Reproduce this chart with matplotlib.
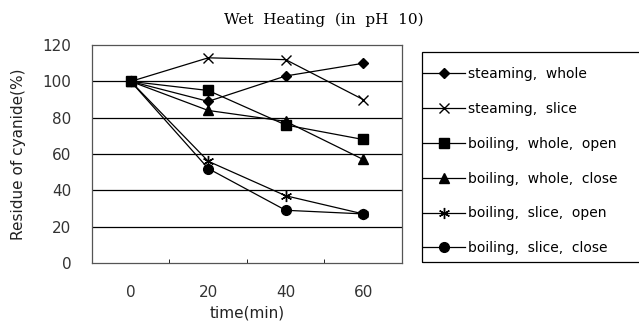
import numpy as np
import matplotlib.pyplot as plt
from matplotlib.patches import Rectangle

times = ['0', '20', '40', '60']
steam_whole = [100, 89, 103, 110]
steam_slice = [100, 113, 112, 90]
boil_whole_open = [100, 95, 76, 68]
boil_whole_close = [100, 84, 78, 57]
boil_slice_open = [100, 56, 37, 27]
boil_slice_close = [100, 52, 29, 27]

labels = ['steaming,  whole', 'steaming,  slice', 'boiling,  whole,  open',
          'boiling,  whole,  close', 'boiling,  slice,  open', 'boiling,  slice,  close']
series = [steam_whole, steam_slice, boil_whole_open, boil_whole_close,
          boil_slice_open, boil_slice_close]
markers = ['D', 'x', 's', '^', (6, 2, 0), 'o']
msizes = [5, 7, 7, 7, 8, 7]

fig = plt.figure(figsize=(6.39, 3.27), dpi=100)
ax = fig.add_axes([0.144, 0.196, 0.485, 0.666])

x = np.arange(len(times))
for vals, lab, m, ms in zip(series, labels, markers, msizes):
    ax.plot(x, vals, color='black', lw=0.9, marker=m, ms=ms, mew=1.0, label=lab)

ax.set_xlim(-0.5, 3.5)
ax.set_ylim(0, 120)
ax.set_yticks(range(0, 121, 20))
ax.set_xticks(x)
ax.set_xticklabels(times)
ax.set_xticks([0.5, 1.5, 2.5], minor=True)
for yv in range(20, 101, 20):
    ax.axhline(yv, color='black', lw=0.9, zorder=0)
for s in ax.spines.values():
    s.set_color('#555555')
    s.set_linewidth(0.9)
ax.tick_params(axis='x', which='major', length=0, pad=16, labelsize=11, labelcolor='#333333')
ax.tick_params(axis='x', which='minor', direction='in', length=3)
ax.tick_params(axis='y', length=0, pad=15, labelsize=11, labelcolor='#333333')

ax.set_xlabel('time(min)', fontsize=11, color='#222222', labelpad=4)
ax.set_ylabel('Residue of cyanide(%)', fontsize=11, color='#222222', labelpad=12)
fig.text(0.507, 0.938, 'Wet  Heating  (in  pH  10)', family='DejaVu Serif',
         fontsize=11, ha='center', va='center')

leg = fig.legend(loc='upper left', bbox_to_anchor=(0.662, 0.795), fontsize=10,
                 labelspacing=1.5, handlelength=3.0, handletextpad=0.25,
                 borderpad=0, borderaxespad=0, frameon=False)
fig.add_artist(Rectangle((0.660, 0.199), 0.4, 0.642, transform=fig.transFigure,
                         fill=False, edgecolor='black', lw=0.9, clip_on=False))

fig.savefig('out.png', dpi=100)
